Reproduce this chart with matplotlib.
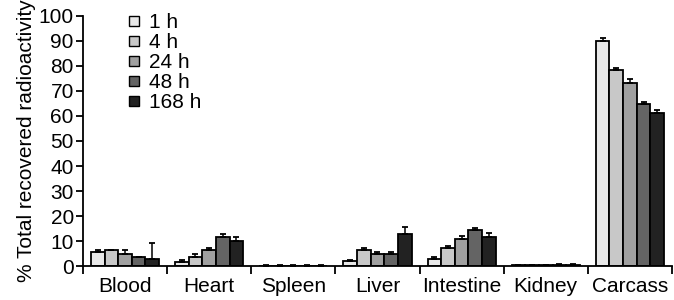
import numpy as np
import matplotlib
matplotlib.use("Agg")
import matplotlib.pyplot as plt
from matplotlib.lines import Line2D

plt.rcParams['font.family'] = ['Liberation Sans', 'DejaVu Sans']

tissues = ["Blood", "Heart", "Spleen", "Liver", "Intestine", "Kidney", "Carcass"]
times = ["1 h", "4 h", "24 h", "48 h", "168 h"]

# mean % recovered radioactivity per time point (rows) and tissue (cols)
means = [
    [5.8, 1.5, 0.2, 2.2, 2.8, 0.5, 90.0],
    [6.3, 3.5, 0.2, 6.5, 7.2, 0.5, 78.2],
    [5.0, 6.5, 0.2, 5.0, 10.8, 0.5, 73.3],
    [3.5, 11.5, 0.2, 5.0, 14.5, 0.6, 64.6],
    [3.0, 10.0, 0.2, 13.0, 11.5, 0.6, 61.0],
]
errors = [
    [0.6, 0.8, 0.1, 0.2, 0.8, 0.1, 1.2],
    [0.3, 1.5, 0.1, 0.6, 1.0, 0.1, 1.0],
    [1.5, 0.8, 0.1, 0.8, 1.2, 0.1, 1.3],
    [0.3, 1.3, 0.1, 0.6, 0.6, 0.1, 0.8],
    [6.3, 1.5, 0.1, 2.7, 1.8, 0.1, 1.3],
]
colors = ["#e8e8e8", "#c8c8c8", "#a0a0a0", "#646464", "#222222"]

FS = 15

fig = plt.figure(figsize=(6.74, 3.0), dpi=100)
ax = fig.add_axes([0.123, 0.113, 0.874, 0.834])

x = np.arange(len(tissues))
w = 0.162
for i, t in enumerate(times):
    pos = x + (i - 2) * w
    ax.bar(pos, means[i], width=w, color=colors[i], edgecolor="black",
           linewidth=1.3, zorder=2)
    ax.errorbar(pos, means[i], yerr=[np.zeros(len(tissues)), errors[i]],
                fmt="none", ecolor="black", elinewidth=1.1, capsize=2.5,
                capthick=1.3, zorder=3)

ax.set_xlim(-0.5, len(tissues) - 0.5)
ax.set_ylim(0, 100)
ax.set_yticks(np.arange(0, 101, 10))
ax.tick_params(axis="y", labelsize=FS, length=5, width=1.3, pad=1.5)

# category boundaries get ticks, names sit between them
ax.set_xticks(np.arange(len(tissues) + 1) - 0.5)
ax.set_xticklabels([])
ax.set_xticks(x, minor=True)
ax.set_xticklabels(tissues, minor=True, fontsize=FS)
ax.tick_params(axis="x", which="major", length=6, width=1.3)
ax.tick_params(axis="x", which="minor", length=0, pad=8)

for s in ["top", "right"]:
    ax.spines[s].set_visible(False)
for s in ["left", "bottom"]:
    ax.spines[s].set_linewidth(1.3)

ax.set_ylabel("% Total recovered radioactivity", fontsize=FS, labelpad=2)

handles = [Line2D([0], [0], marker="s", linestyle="none", markersize=6.5,
                  markerfacecolor=c, markeredgecolor="black", markeredgewidth=1.0)
           for c in colors]
ax.legend(handles, times, loc="upper left", bbox_to_anchor=(0.05, 1.07),
          frameon=False, fontsize=FS, labelspacing=0.05, handlelength=0.7,
          handletextpad=0.35, borderpad=0.2)

fig.savefig("out.png", dpi=100)
